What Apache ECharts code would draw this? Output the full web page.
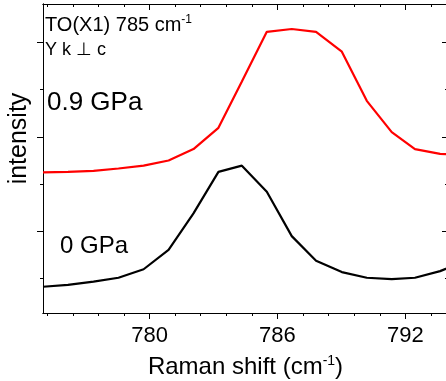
<!DOCTYPE html>
<html>
<head>
<meta charset="utf-8">
<script src="https://cdn.jsdelivr.net/npm/echarts@6/dist/echarts.min.js"></script>
<style>
html,body{margin:0;padding:0;background:#fff;}
#c{width:446px;height:381px;}
</style>
</head>
<body>
<div id="c"></div>
<script>
// Raman shift (cm^-1)
const shift = [775.0, 776.17, 777.37, 778.54, 779.72, 780.89, 782.06, 783.23, 784.33, 785.5, 786.67, 787.81, 789.02, 790.19, 791.36, 792.45, 793.63, 794.8];
// intensity, 0 GPa (black)
const i0GPa = [-0.17, -0.13, -0.06, 0.02, 0.2, 0.61, 1.38, 2.26, 2.39, 1.84, 0.9, 0.38, 0.14, 0.02, -0.01, 0.02, 0.16, 0.37];
// intensity, 0.9 GPa (red)
const i09GPa = [2.25, 2.26, 2.28, 2.33, 2.39, 2.5, 2.74, 3.19, 4.17, 5.22, 5.28, 5.22, 4.8, 3.76, 3.1, 2.74, 2.64, 2.62];

const xMajor = [780, 786, 792];
const xMinor = [775.2, 776.4, 777.6, 778.8, 781.2, 782.4, 783.6, 784.8, 787.2, 788.4, 789.6, 790.8, 793.2];
const yMajor = [1, 3, 5];
const yMinor = [0, 2, 4];

const FONT = 'Liberation Sans, Arial, sans-serif';
const chart = echarts.init(document.getElementById('c'), null, {renderer: 'canvas'});

function xAx(pos, vals, len, inside, withLabel, extra) {
  return Object.assign({
    type: 'value', position: pos, min: 775, max: 794,
    axisLine: {show: true, onZero: false, lineStyle: {color: '#000', width: 1}},
    axisTick: {show: true, inside: inside, length: len, customValues: vals, lineStyle: {color: '#000', width: 1}},
    axisLabel: withLabel ? {show: true, customValues: vals, color: '#000', fontSize: 22, fontFamily: FONT, margin: 12} : {show: false},
    splitLine: {show: false}
  }, extra || {});
}
function yAx(pos, vals, len, inside, extra) {
  return Object.assign({
    type: 'value', position: pos, min: -0.725, max: 5.808,
    axisLine: {show: true, onZero: false, lineStyle: {color: '#000', width: 1}},
    axisTick: {show: true, inside: inside, length: len, customValues: vals, lineStyle: {color: '#000', width: 1}},
    axisLabel: {show: false},
    splitLine: {show: false}
  }, extra || {});
}

chart.setOption({
  animation: false,
  backgroundColor: '#fff',
  grid: {left: 43, right: -2, top: 4, bottom: 68, containLabel: false, outerBoundsMode: 'none'},
  xAxis: [
    xAx('bottom', xMajor, 6, false, true, {
      name: '{a|Raman shift (cm}{s|-1}{a|)}',
      nameLocation: 'middle', nameGap: 41,
      nameTextStyle: {rich: {
        a: {fontSize: 24, fontFamily: FONT, color: '#000'},
        s: {fontSize: 14, fontFamily: FONT, color: '#000', padding: [0, 0, 13, 0]}
      }}
    }),
    xAx('bottom', xMinor, 3, false, false),
    xAx('top', xMajor, 6, true, false),
    xAx('top', xMinor, 3, true, false)
  ],
  yAxis: [
    yAx('left', yMajor, 6, false, {
      name: 'intensity', nameLocation: 'middle', nameGap: 11, nameRotate: 90,
      nameTextStyle: {fontSize: 25, fontFamily: FONT, color: '#000', padding: [0, 0, 0, 40]}
    }),
    yAx('left', yMinor, 3, false),
    yAx('right', yMajor, 6, true),
    yAx('right', yMinor, 3, true)
  ],
  series: [
    {name: '0 GPa', type: 'line', data: shift.map((x, i) => [x, i0GPa[i]]), showSymbol: false,
     lineStyle: {color: '#000', width: 2.2}, itemStyle: {color: '#000'}, clip: true},
    {name: '0.9 GPa', type: 'line', data: shift.map((x, i) => [x, i09GPa[i]]), showSymbol: false,
     lineStyle: {color: '#ff0000', width: 2.2}, itemStyle: {color: '#ff0000'}, clip: true}
  ],
  graphic: [
    {type: 'text', left: 45, top: 14, style: {
      text: '{a|TO(X1) 785 cm}{s|-1}',
      rich: {a: {fontSize: 20, fontFamily: FONT, fill: '#000'}, s: {fontSize: 12, fontFamily: FONT, fill: '#000', padding: [0, 0, 11, 0]}}
    }},
    {type: 'text', left: 45, top: 41, style: {text: 'Y k \u22A5 c', fontSize: 18, fontFamily: FONT, fill: '#000'}},
    {type: 'text', left: 47, top: 90, style: {text: '0.9 GPa', fontSize: 26, fontFamily: FONT, fill: '#000'}},
    {type: 'text', left: 60, top: 234, style: {text: '0 GPa', fontSize: 24, fontFamily: FONT, fill: '#000'}}
  ]
});
</script>
</body>
</html>
